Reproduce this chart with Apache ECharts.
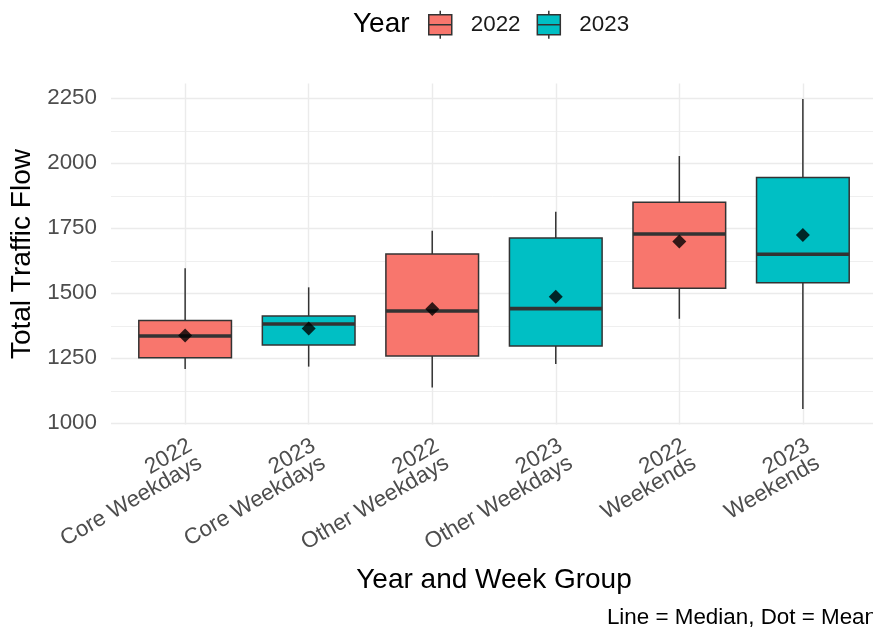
<!DOCTYPE html>
<html><head><meta charset="utf-8">
<script src="https://cdn.jsdelivr.net/npm/echarts@6/dist/echarts.min.js"></script>
<style>html,body{margin:0;padding:0;background:#fff}#c{width:873px;height:634px}</style>
</head><body><div id="c"></div>
<script>
// ---- data ----
const categories = ['2022\nCore Weekdays','2023\nCore Weekdays','2022\nOther Weekdays','2023\nOther Weekdays','2022\nWeekends','2023\nWeekends'];
const years = ['2022','2023','2022','2023','2022','2023'];
const whiskerLow  = [1209, 1218, 1138, 1228, 1402, 1055];
const q1          = [1252, 1301, 1259, 1297, 1519, 1541];
const median      = [1336, 1382, 1432, 1441, 1728, 1650];
const q3          = [1395, 1413, 1651, 1713, 1850, 1945];
const whiskerHigh = [1596, 1523, 1741, 1814, 2028, 2247];
const means       = [1338, 1365, 1440, 1487, 1699, 1724];
const yTicks = [1000, 1250, 1500, 1750, 2000, 2250];
const yMinorTicks = [1125, 1375, 1625, 1875, 2125];
const legendYears = ['2022', '2023'];

// ---- styles ----
const FONT = "'Liberation Sans', Arial, Helvetica, sans-serif";
const yearColors = {'2022': '#F8766D', '2023': '#00BFC4'};
const STROKE = '#333333';
const ICON = 'path://M1,4 H24 V24 H1 Z M12.5,0 V4 M12.5,24 V28 M1,14 H24';
const xIdx = categories.map((c, i) => i);

function renderBox(params, api) {
  const x = api.value(0);
  const half = api.size([0.75, 0])[0] / 2;
  const pLow = api.coord([x, api.value(1)]);
  const pQ1 = api.coord([x, api.value(2)]);
  const pMed = api.coord([x, api.value(3)]);
  const pQ3 = api.coord([x, api.value(4)]);
  const pHigh = api.coord([x, api.value(5)]);
  const color = api.visual('color');
  return {
    type: 'group',
    children: [
      {type: 'line', shape: {x1: pHigh[0], y1: pHigh[1], x2: pQ3[0], y2: pQ3[1]}, style: {stroke: STROKE, lineWidth: 1.5}},
      {type: 'line', shape: {x1: pQ1[0], y1: pQ1[1], x2: pLow[0], y2: pLow[1]}, style: {stroke: STROKE, lineWidth: 1.5}},
      {type: 'rect', shape: {x: pQ3[0] - half, y: pQ3[1], width: half * 2, height: pQ1[1] - pQ3[1]}, style: {fill: color, stroke: STROKE, lineWidth: 1.5}},
      {type: 'line', shape: {x1: pMed[0] - half, y1: pMed[1], x2: pMed[0] + half, y2: pMed[1]}, style: {stroke: STROKE, lineWidth: 3.6}}
    ]
  };
}

const boxSeries = legendYears.map(yr => ({
  name: yr,
  type: 'custom',
  renderItem: renderBox,
  itemStyle: {color: yearColors[yr], borderColor: STROKE, borderWidth: 1.5},
  encode: {x: 0, y: [1, 2, 3, 4, 5]},
  data: xIdx.filter(i => years[i] === yr).map(i => [i, whiskerLow[i], q1[i], median[i], q3[i], whiskerHigh[i]]),
  z: 3
}));

const chart = echarts.init(document.getElementById('c'), null, {renderer: 'canvas'});
chart.setOption({
  animation: false,
  backgroundColor: '#ffffff',
  textStyle: {fontFamily: FONT},
  grid: {left: 111, top: 83.6, width: 766, height: 340.9, containLabel: false, outerBoundsMode: 'none'},
  legend: {
    data: legendYears.map(n => ({name: n, icon: ICON})),
    left: 428, top: 10, padding: 0,
    itemWidth: 25, itemHeight: 28, itemGap: 16,
    itemStyle: {borderColor: STROKE, borderWidth: 1.5},
    textStyle: {fontSize: 22.4, color: '#1a1a1a', fontFamily: FONT, padding: [0, 0, 0, 13]},
    selectedMode: false
  },
  xAxis: {
    type: 'value', min: -0.6, max: 5.6,
    axisLine: {show: false},
    axisTick: {show: false, customValues: xIdx},
    axisLabel: {
      customValues: xIdx,
      formatter: v => categories[Math.round(v)],
      rotate: 30, margin: 11, fontSize: 22.4, lineHeight: 20,
      color: '#4d4d4d', fontFamily: FONT, align: 'right', verticalAlign: 'top'
    },
    splitLine: {show: true, lineStyle: {color: '#ebebeb', width: 1.4}},
    name: 'Year and Week Group', nameLocation: 'middle', nameGap: 156,
    nameTextStyle: {fontSize: 28, color: '#000000', fontFamily: FONT, verticalAlign: 'middle'}
  },
  yAxis: [{
    type: 'value', min: 995.4, max: 2306.6,
    axisLine: {show: false},
    axisTick: {show: false, customValues: yTicks},
    axisLabel: {customValues: yTicks, formatter: v => String(v), fontSize: 22.4, color: '#4d4d4d', margin: 14, fontFamily: FONT},
    splitLine: {show: true, lineStyle: {color: '#ebebeb', width: 1.4}},
    name: 'Total Traffic Flow', nameLocation: 'middle', nameGap: 88,
    nameTextStyle: {fontSize: 28, color: '#000000', fontFamily: FONT, verticalAlign: 'middle'}
  }, {
    type: 'value', min: 995.4, max: 2306.6, position: 'left',
    axisLine: {show: false},
    axisTick: {show: false, customValues: yMinorTicks},
    axisLabel: {show: false},
    splitLine: {show: true, lineStyle: {color: '#ebebeb', width: 0.8}}
  }],
  series: boxSeries.concat([{
    name: 'Mean', type: 'scatter',
    symbol: 'diamond', symbolSize: 14,
    itemStyle: {color: '#000000'},
    data: means.map((m, i) => [i, m]),
    z: 5
  }]),
  graphic: [
    {type: 'text', x: 353, y: 24, style: {text: 'Year', font: '28px ' + FONT, fill: '#000000', align: 'left', verticalAlign: 'middle'}},
    {type: 'text', x: 877, y: 618, style: {text: 'Line = Median, Dot = Mean', font: '22.4px ' + FONT, fill: '#000000', align: 'right', verticalAlign: 'middle'}}
  ]
});
</script>
</body></html>
